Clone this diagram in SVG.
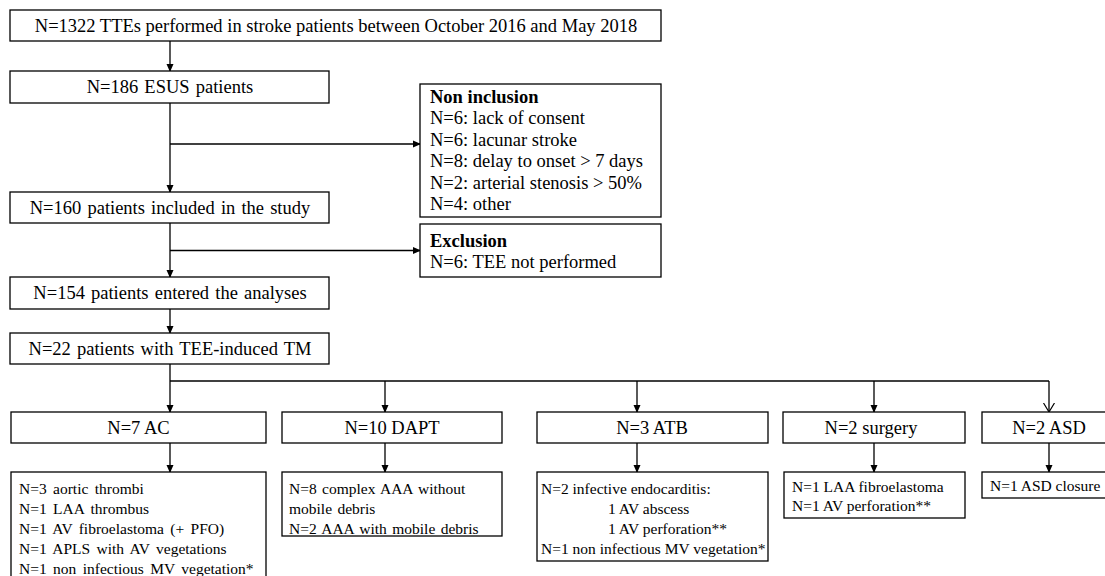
<svg xmlns="http://www.w3.org/2000/svg" width="1105" height="576" viewBox="0 0 1105 576">
<defs>
<marker id="ah" markerWidth="8" markerHeight="8" refX="7" refY="4" orient="auto" markerUnits="userSpaceOnUse">
<path d="M0,0.5 L8,4 L0,7.5 Z" fill="#000"/>
</marker>
<marker id="ao" markerWidth="10" markerHeight="12" refX="9" refY="6" orient="auto" markerUnits="userSpaceOnUse">
<path d="M0,0.5 L9,6 L0,11.5" fill="none" stroke="#000" stroke-width="1.2"/>
</marker>
<style>
.b{fill:#fff;stroke:#000;stroke-width:1.3}
.t{font-family:"Liberation Serif","Times New Roman",serif;font-size:18.5px;fill:#000}
.w{word-spacing:1.5px}
.m{text-anchor:middle}
.d{font-family:"Liberation Serif","Times New Roman",serif;font-size:15.5px;fill:#000}
.dw{word-spacing:2.5px}
.dv{word-spacing:1.5px}
.bd{font-weight:bold}
.c{fill:none;stroke:#000;stroke-width:1.3}
</style>
</defs>
<rect width="1105" height="576" fill="#fff"/>
<g id="connectors">
<path class="c" d="M170,41 V71" marker-end="url(#ah)"/>
<path class="c" d="M170,103 V192" marker-end="url(#ah)"/>
<path class="c" d="M170,144 H420" marker-end="url(#ah)"/>
<path class="c" d="M170,223 V277" marker-end="url(#ah)"/>
<path class="c" d="M170,250.5 H420" marker-end="url(#ah)"/>
<path class="c" d="M170,309 V333" marker-end="url(#ah)"/>
<path class="c" d="M170,364 V412" marker-end="url(#ah)"/>
<path class="c" d="M170,381 H1049"/>
<path class="c" d="M385,381 V412" marker-end="url(#ah)"/>
<path class="c" d="M637,381 V412" marker-end="url(#ah)"/>
<path class="c" d="M874,381 V412" marker-end="url(#ah)"/>
<path class="c" d="M1049,381 V412" marker-end="url(#ao)"/>
<path class="c" d="M170,443 V472" marker-end="url(#ah)"/>
<path class="c" d="M385,443 V472" marker-end="url(#ah)"/>
<path class="c" d="M637,443 V472" marker-end="url(#ah)"/>
<path class="c" d="M874,443 V472" marker-end="url(#ah)"/>
<path class="c" d="M1049,443 V472" marker-end="url(#ah)"/>
</g>
<g id="n_tte">
<rect class="b" x="10" y="10" width="651" height="31"/>
<text class="t m" x="336" y="32">N=1322 TTEs performed in stroke patients between October 2016 and May 2018</text>
</g>
<g id="n_esus">
<rect class="b" x="10" y="71" width="319" height="32"/>
<text class="t m w" x="170" y="93">N=186 ESUS patients</text>
</g>
<g id="n_noninc">
<rect class="b" x="420" y="84" width="241" height="133"/>
<text class="t bd" x="430" y="102.5">Non inclusion</text>
<text class="t" x="430" y="124">N=6: lack of consent</text>
<text class="t" x="430" y="145.5">N=6: lacunar stroke</text>
<text class="t" x="430" y="167">N=8: delay to onset &gt; 7 days</text>
<text class="t" x="430" y="188.5">N=2: arterial stenosis &gt; 50%</text>
<text class="t" x="430" y="210">N=4: other</text>
</g>
<g id="n_incl">
<rect class="b" x="10" y="192" width="319" height="31"/>
<text class="t m w" x="170" y="214">N=160 patients included in the study</text>
</g>
<g id="n_excl">
<rect class="b" x="420" y="224" width="241" height="53"/>
<text class="t bd" x="430" y="246.5">Exclusion</text>
<text class="t" x="430" y="268">N=6: TEE not performed</text>
</g>
<g id="n_154">
<rect class="b" x="10" y="277" width="319" height="32"/>
<text class="t m w" x="170" y="299">N=154 patients entered the analyses</text>
</g>
<g id="n_22">
<rect class="b" x="10" y="333" width="319" height="31"/>
<text class="t m w" x="170" y="354.5">N=22 patients with TEE-induced TM</text>
</g>
<g id="n_ac">
<rect class="b" x="11" y="412" width="255" height="31"/>
<text class="t m" x="138.5" y="433.5">N=7 AC</text>
</g>
<g id="n_dapt">
<rect class="b" x="282" y="412" width="220" height="31"/>
<text class="t m" x="392" y="433.5">N=10 DAPT</text>
</g>
<g id="n_atb">
<rect class="b" x="537" y="412" width="231" height="31"/>
<text class="t m" x="652" y="433.5">N=3 ATB</text>
</g>
<g id="n_surg">
<rect class="b" x="783" y="412" width="182" height="31"/>
<text class="t m" x="871" y="433.5">N=2 surgery</text>
</g>
<g id="n_asd">
<rect class="b" x="982" y="412" width="134" height="31"/>
<text class="t m" x="1049" y="433.5">N=2 ASD</text>
</g>
<g id="d_ac">
<rect class="b" x="11" y="472" width="255" height="110"/>
<text class="d dw" x="19" y="494">N=3 aortic thrombi</text>
<text class="d dw" x="19" y="514">N=1 LAA thrombus</text>
<text class="d dw" x="19" y="534">N=1 AV fibroelastoma (+ PFO)</text>
<text class="d dw" x="19" y="554">N=1 APLS with AV vegetations</text>
<text class="d dw" x="19" y="574">N=1 non infectious MV vegetation*</text>
</g>
<g id="d_dapt">
<rect class="b" x="282" y="472" width="220" height="64"/>
<text class="d dv" x="289" y="494">N=8 complex AAA without</text>
<text class="d dv" x="289" y="514">mobile debris</text>
<text class="d dv" x="289" y="534">N=2 AAA with mobile debris</text>
</g>
<g id="d_atb">
<rect class="b" x="537" y="472" width="231" height="89"/>
<text class="d" x="541" y="494">N=2 infective endocarditis:</text>
<text class="d" x="608" y="514">1 AV abscess</text>
<text class="d" x="608" y="534">1 AV perforation**</text>
<text class="d" x="541" y="554">N=1 non infectious MV vegetation*</text>
</g>
<g id="d_surg">
<rect class="b" x="784" y="472" width="181" height="46"/>
<text class="d" x="792" y="492">N=1 LAA fibroelastoma</text>
<text class="d" x="792" y="511">N=1 AV perforation**</text>
</g>
<g id="d_asd">
<rect class="b" x="982" y="472" width="134" height="26"/>
<text class="d" x="990" y="491">N=1 ASD closure</text>
</g>
</svg>
